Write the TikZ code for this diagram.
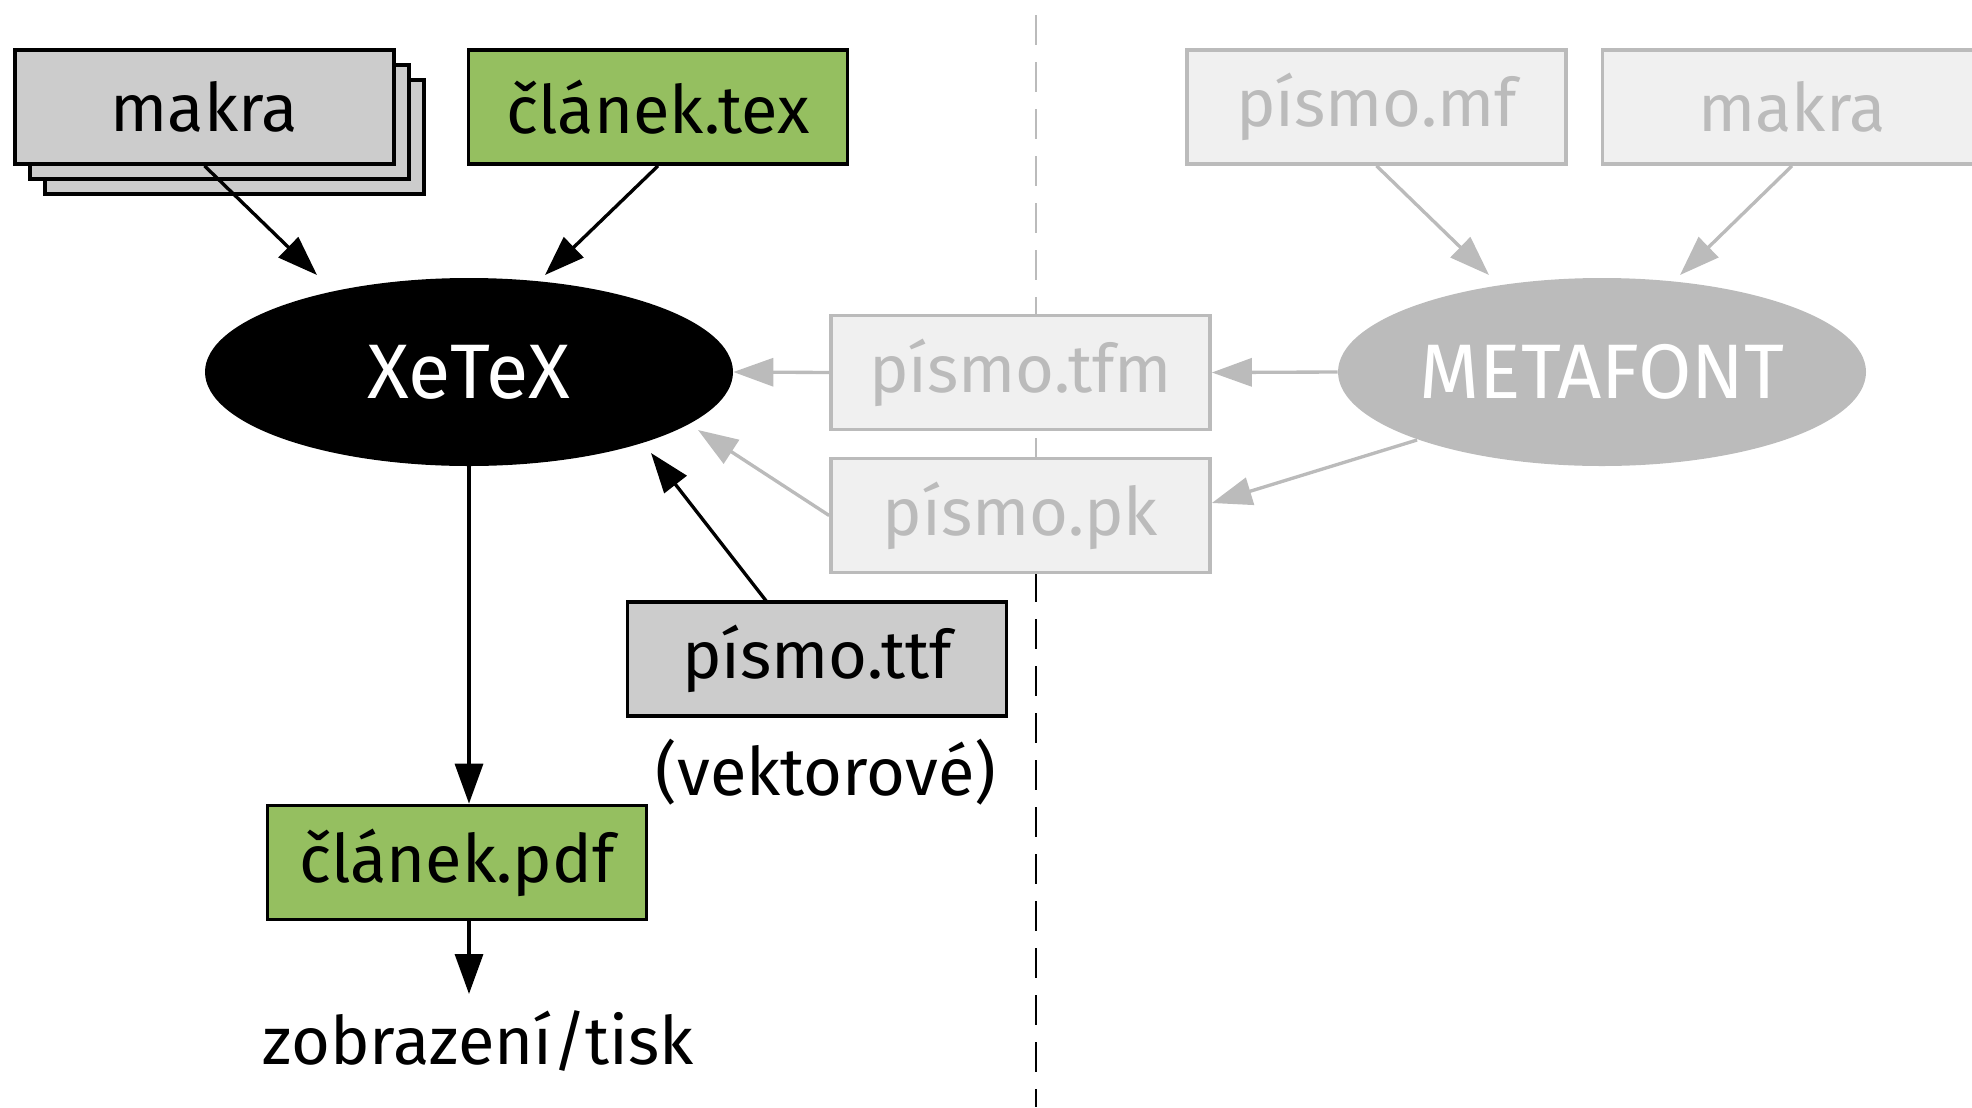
\documentclass[tikz,border=0pt]{standalone}
\usepackage{fontspec}
\setmainfont{Fira Sans}
\usepackage{xcolor}
\usepackage{tikz}
\usetikzlibrary{positioning, arrows.meta, shapes.geometric}
\definecolor{filegreen}{HTML}{95BF60}
\definecolor{filegray}{HTML}{CCCCCC}
\definecolor{fadefill}{HTML}{F0F0F0}
\definecolor{fadeline}{HTML}{BBBBBB}

\tikzset{
  filebox/.style={draw=black, line width=2.1pt, minimum width=7.58cm, minimum height=2.28cm,
                  inner sep=0pt, font=\fontsize{38}{46}\selectfont},
  fadebox/.style={filebox, draw=fadeline, fill=fadefill, text=fadeline},
  prog/.style={ellipse, minimum width=10.56cm, minimum height=3.76cm, inner sep=0pt,
               font=\fontsize{44}{52}\selectfont},
  flow/.style={line width=1.9pt, -{Triangle[length=0.8cm, width=0.56cm]}},
  fadeflow/.style={flow, draw=fadeline, fill=fadeline},
  sep/.style={dashed, line width=1.2pt, dash pattern=on 0.6cm off 0.34cm}
}

\begin{document}
\begin{tikzpicture}
    \useasboundingbox (0,0) rectangle (39.44,-22.14);

    % divider
    \draw[sep, fadeline] (20.72,-0.3) -- (20.72,-11.44);
    \draw[sep, black] (20.72,-11.44) -- (20.72,-22.14);

    % XeTeX side
    \node[filebox, fill=filegray] (makraC) at (4.69,-2.74) {};
    \node[filebox, fill=filegray] (makraB) at (4.39,-2.44) {};
    \node[filebox, fill=filegray] (makra) at (4.09,-2.14) {makra};
    \node[filebox, fill=filegreen] (clanektex) at (13.16,-2.14) {článek.tex};
    \node[prog, fill=black, text=white] (xetex) at (9.38,-7.44) {XeTeX};
    \node[filebox, fill=filegray] (ttf) at (16.34,-13.18) {písmo.ttf};
    \node[font=\fontsize{38}{46}\selectfont, inner sep=0pt] (vektor) at (16.52,-15.44) {(vektorové)};
    \node[filebox, fill=filegreen] (clanekpdf) at (9.14,-17.25) {článek.pdf};
    \node[font=\fontsize{38}{46}\selectfont, inner sep=0pt] (tisk) at (9.56,-20.83) {zobrazení/tisk};

    % METAFONT side
    \node[fadebox] (tfm) at (20.41,-7.45) {písmo.tfm};
    \node[fadebox] (pk) at (20.41,-10.31) {písmo.pk};
    \node[fadebox] (mf) at (27.53,-2.14) {písmo.mf};
    \node[fadebox] (makraMF) at (35.84,-2.14) {makra};
    \node[prog, fill=fadeline, text=white] (mfont) at (32.04,-7.44) {METAFONT};

    \coordinate (inMakra) at (6.34,-5.5);
    \coordinate (inTex) at (10.9,-5.5);
    \coordinate (outTtf) at (15.34,-12.04);
    \coordinate (inTtf) at (13.02,-9.06);
    \coordinate (inPk) at (13.96,-8.6);
    \coordinate (outPk) at (28.34,-8.8);
    \coordinate (inMf) at (29.78,-5.5);
    \coordinate (inMakraMF) at (33.6,-5.5);
    \coordinate (inTisk) at (9.38,-19.88);

    \draw[flow] (makra.south) -- (inMakra);
    \draw[flow] (clanektex.south) -- (inTex);
    \draw[flow] (xetex.south) -- (xetex.south |- clanekpdf.north);
    \draw[flow] (xetex.south |- clanekpdf.south) -- (inTisk);
    \draw[flow] (outTtf) -- (inTtf);

    \draw[fadeflow] (tfm.west) -- (xetex.east);
    \draw[fadeflow] (pk.west) -- (inPk);
    \draw[fadeflow] (mfont.west) -- (tfm.east);
    \draw[fadeflow] (outPk) -- (pk.east |- 0,-10.06);
    \draw[fadeflow] (mf.south) -- (inMf);
    \draw[fadeflow] (makraMF.south) -- (inMakraMF);
\end{tikzpicture}
\end{document}
